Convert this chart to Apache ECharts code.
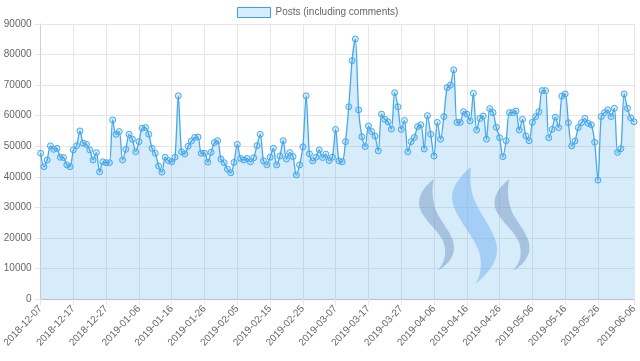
<!DOCTYPE html>
<html>
<head>
<meta charset="utf-8">
<script src="https://cdn.jsdelivr.net/npm/echarts@6/dist/echarts.min.js"></script>
<style>
html,body{margin:0;padding:0;background:#fff;}
#chart{width:640px;height:361px;}
</style>
</head>
<body>
<div id="chart"></div>
<script>
// ---- Data ----
var startDate = '2018-12-07';
var dayCount = 182;
var seriesName = 'Posts (including comments)';
var posts = [
  47700, 43300, 45500, 50100, 49000, 49300, 46400, 46300, 43900, 43300,
  48800, 50200, 55000, 51000, 50600, 48800, 45500, 47900, 41600, 44900,
  44600, 44600, 58600, 53900, 54800, 45500, 49000, 53900, 52300, 48200,
  51500, 55900, 56100, 53900, 49300, 47700, 43500, 41500, 46400, 45300,
  44900, 46400, 66500, 48200, 47500, 50000, 51700, 52900, 53000, 47700,
  47700, 44800, 48000, 51200, 51800, 45800, 44600, 42500, 41300, 44700,
  50600, 46000, 45500, 46000, 44900, 46200, 50200, 53900, 45200, 43900,
  46400, 49300, 43900, 46800, 51800, 45800, 47900, 46600, 40600, 43900,
  49800, 66500, 47500, 45200, 46400, 48800, 46300, 47400, 45300, 46400,
  55500, 45200, 44900, 51500, 62900, 78000, 85100, 61900, 53100, 49900,
  56600, 54800, 53300, 48500, 60500, 58800, 58000, 55600, 67500, 62900,
  55500, 58400, 48200, 51500, 52900, 56400, 57000, 49100, 60000, 53900,
  46800, 57800, 52300, 59700, 69200, 70000, 75000, 57800, 57800, 61300,
  60500, 58300, 67300, 55300, 59100, 59900, 52300, 62300, 61000, 56200,
  52800, 46600, 51800, 61000, 61000, 61500, 55300, 58800, 53400, 51800,
  57800, 59700, 61300, 68200, 68200, 52800, 55500, 59500, 56100, 66400,
  67100, 57700, 50100, 51700, 56100, 57700, 59100, 57500, 57000, 51300,
  38900, 59700, 61000, 61900, 59700, 62400, 48000, 49200, 67100, 62400,
  59300, 58000
];
var yTicks = [0, 10000, 20000, 30000, 40000, 50000, 60000, 70000, 80000, 90000];

// category labels (dates)
function pad(n){ return (n < 10 ? '0' : '') + n; }
var dates = [];
(function(){
  var p = startDate.split('-');
  var d = new Date(Date.UTC(+p[0], +p[1]-1, +p[2]));
  for (var i = 0; i < dayCount; i++) {
    dates.push(d.getUTCFullYear() + '-' + pad(d.getUTCMonth()+1) + '-' + pad(d.getUTCDate()));
    d.setUTCDate(d.getUTCDate() + 1);
  }
})();

function showTick(idx){ return (idx % 10 === 0 && idx < dayCount - 2) || idx === dayCount - 1; }

// ---- Steem-logo watermark (decorative) ----
function bezierShape(start, segs, dx){
  var pts = [[start[0]+dx, start[1]]];
  var p0 = start;
  segs.forEach(function(s){
    var c1 = s[0], c2 = s[1], p3 = s[2];
    for (var k = 1; k <= 16; k++) {
      var t = k/16, u = 1-t;
      var x = u*u*u*p0[0] + 3*u*u*t*c1[0] + 3*u*t*t*c2[0] + t*t*t*p3[0];
      var y = u*u*u*p0[1] + 3*u*u*t*c1[1] + 3*u*t*t*c2[1] + t*t*t*p3[1];
      pts.push([x+dx, y]);
    }
    p0 = p3;
  });
  return pts;
}
var sideStart = [434,179];
var sideSegs = [
  [[426,185],[419,193],[419,203]],
  [[419,218],[440,230],[444,244]],
  [[447,254],[444,264],[437,271]],
  [[446,266],[454,258],[454,248]],
  [[454,232],[437,220],[434,204]],
  [[432,195],[432,186],[434,179]]
];
var midStart = [471,167];
var midSegs = [
  [[462,174],[452,186],[452,197]],
  [[452,215],[474,235],[479,252]],
  [[483,265],[480,277],[475,284]],
  [[487,275],[498,262],[497,248]],
  [[496,232],[478,212],[473,196]],
  [[470,186],[470,175],[471,167]]
];

var chart = echarts.init(document.getElementById('chart'), null, {renderer:'canvas'});
var font = '"Liberation Sans", Arial, Helvetica, sans-serif';
chart.setOption({
  animation: false,
  textStyle: { fontFamily: font },
  legend: {
    data: [seriesName],
    left: 237, top: 7, padding: 0,
    icon: 'rect',
    itemWidth: 33, itemHeight: 10, itemGap: 10,
    textStyle: { color: '#666', fontSize: 10, fontFamily: font },
    itemStyle: { color: 'rgba(54,162,235,0.2)', borderColor: '#36a2eb', borderWidth: 1 }
  },
  grid: { left: 39, right: 6, top: 24, bottom: 62, containLabel: false },
  xAxis: {
    type: 'category',
    data: dates,
    boundaryGap: false,
    axisLine: { show: true, lineStyle: { color: '#bfbfbf', width: 1 } },
    axisTick: { show: true, interval: function(i){ return showTick(i); }, length: 6, lineStyle: { color: '#e6e6e6' } },
    splitLine: { show: true, interval: function(i){ return showTick(i); }, lineStyle: { color: '#e6e6e6', width: 1 } },
    axisLabel: {
      interval: function(i){ return showTick(i); },
      rotate: 47, margin: 8,
      color: '#666', fontSize: 10, fontFamily: font
    }
  },
  yAxis: {
    type: 'value',
    min: yTicks[0], max: yTicks[yTicks.length-1], interval: 10000,
    axisLine: { show: true, lineStyle: { color: '#d0d0d0', width: 1 } },
    axisTick: { show: true, length: 6, lineStyle: { color: '#e6e6e6' } },
    splitLine: { show: true, lineStyle: { color: '#e6e6e6', width: 1 } },
    axisLabel: { margin: 9, color: '#666', fontSize: 10, fontFamily: font,
      formatter: function(v){ return String(v); } }
  },
  graphic: [
    { type: 'polygon', z: 1, silent: true, shape: { points: bezierShape(sideStart, sideSegs, 0) }, style: { fill: 'rgba(125,140,180,0.45)' } },
    { type: 'polygon', z: 1, silent: true, shape: { points: bezierShape(midStart, midSegs, 0) }, style: { fill: 'rgba(130,182,245,0.5)' } },
    { type: 'polygon', z: 1, silent: true, shape: { points: bezierShape(sideStart, sideSegs, 75.5) }, style: { fill: 'rgba(125,140,180,0.45)' } }
  ],
  series: [{
    name: seriesName,
    type: 'line',
    data: posts,
    smooth: 0.3,
    symbol: 'circle',
    symbolSize: 6,
    showSymbol: true,
    showAllSymbol: true,
    z: 2,
    lineStyle: { color: '#45a8ec', width: 1.3 },
    itemStyle: { color: 'rgba(54,162,235,0.2)', borderColor: '#45a8ec', borderWidth: 1 },
    areaStyle: { color: 'rgba(54,162,235,0.2)', opacity: 1, origin: 'start' }
  }]
});
</script>
</body>
</html>
